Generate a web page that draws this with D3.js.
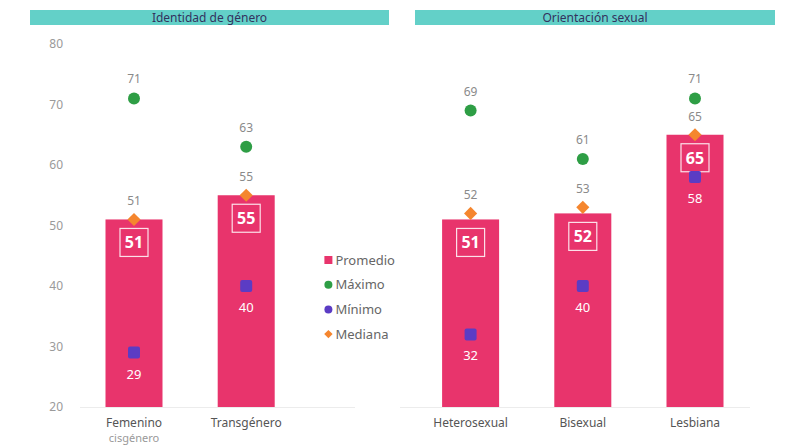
<!DOCTYPE html>
<html>
<head>
<meta charset="utf-8">
<script src="https://cdn.jsdelivr.net/npm/d3@7"></script>
<style>
  body { margin: 0; background: #fff; }
  svg { font-family: "Noto Sans", "Open Sans", sans-serif; }
</style>
</head>
<body>
<div id="chart"></div>
<script>
// data
const categories = ["Femenino", "Transgénero", "Heterosexual", "Bisexual", "Lesbiana"];
const subLabels = ["cisgénero", "", "", "", ""];
const promedio = [51, 55, 51, 52, 65];
const maximo = [71, 63, 69, 61, 71];
const minimo = [29, 40, 32, 40, 58];
const mediana = [51, 55, 52, 53, 65];
const yTicks = [20, 30, 40, 50, 60, 70, 80];
const panels = ["Identidad de género", "Orientación sexual"];
const legendItems = ["Promedio", "Máximo", "Mínimo", "Mediana"];

const width = 785;
const height = 446;
const barWidth = 57;

const colors = {
    bar: "#e8346c",
    max: "#2e9e45",
    min: "#5b3cc4",
    med: "#f5862e",
    header: "#63d0c8"
};

// slots: the empty one in the middle holds the legend
const slots = ["Femenino", "Transgénero", "legend", "Heterosexual", "Bisexual", "Lesbiana"];

const svg = d3.select("#chart")
    .append("svg")
    .attr("width", width)
    .attr("height", height);

const xScale = d3.scalePoint()
    .domain(slots)
    .range([134, 695]);

const yScale = d3.scaleLinear()
    .domain([20, 80])
    .range([407, 44]);

const rows = categories.map((c, i) => ({
    cat: c,
    sub: subLabels[i],
    avg: promedio[i],
    max: maximo[i],
    min: minimo[i],
    med: mediana[i]
}));

// panel headers
const panelRanges = [[30, 389], [415, 775]];
panels.forEach((p, i) => {
    const [x0, x1] = panelRanges[i];
    svg.append("rect")
        .attr("x", x0).attr("y", 10)
        .attr("width", x1 - x0).attr("height", 15)
        .attr("fill", colors.header);
    svg.append("text")
        .attr("x", (x0 + x1) / 2).attr("y", 21.5)
        .attr("text-anchor", "middle")
        .attr("font-size", 12)
        .attr("fill", "#33325e")
        .text(p);
    // faint baseline
    svg.append("line")
        .attr("x1", i === 0 ? 80 : 400).attr("x2", i === 0 ? 355 : 750)
        .attr("y1", yScale(20) + 0.5).attr("y2", yScale(20) + 0.5)
        .attr("stroke", "#ececec");
});

// y axis
const yAxis = d3.axisLeft(yScale)
    .tickValues(yTicks)
    .tickSize(0)
    .tickPadding(0);

const yg = svg.append("g")
    .attr("transform", "translate(63,0)")
    .call(yAxis);
yg.select(".domain").remove();
yg.selectAll("text")
    .attr("font-size", 12)
    .attr("fill", "#9a9a9a")
    .attr("font-family", "Noto Sans, sans-serif");

// bars
svg.append("g").selectAll("rect")
    .data(rows)
    .enter()
    .append("rect")
    .attr("x", d => xScale(d.cat) - barWidth / 2)
    .attr("y", d => yScale(d.avg))
    .attr("width", barWidth)
    .attr("height", d => yScale(20) - yScale(d.avg))
    .attr("fill", colors.bar);

// boxed average labels
const boxes = svg.append("g").selectAll("g")
    .data(rows)
    .enter()
    .append("g")
    .attr("transform", d => "translate(" + xScale(d.cat) + "," + (yScale(d.avg) + 23) + ")");
boxes.append("rect")
    .attr("x", -14).attr("y", -14)
    .attr("width", 28).attr("height", 28)
    .attr("fill", "none")
    .attr("stroke", "#fff")
    .attr("stroke-width", 1.2)
    .attr("opacity", 0.85);
boxes.append("text")
    .attr("text-anchor", "middle")
    .attr("dy", "0.36em")
    .attr("font-size", 16)
    .attr("font-weight", "bold")
    .attr("fill", "#fff")
    .text(d => d.avg);

// maximum dots
svg.append("g").selectAll("circle")
    .data(rows)
    .enter()
    .append("circle")
    .attr("cx", d => xScale(d.cat))
    .attr("cy", d => yScale(d.max))
    .attr("r", 6)
    .attr("fill", colors.max);
svg.append("g").selectAll("text")
    .data(rows)
    .enter()
    .append("text")
    .attr("x", d => xScale(d.cat))
    .attr("y", d => yScale(d.max) - 15)
    .attr("text-anchor", "middle")
    .attr("font-size", 12)
    .attr("fill", "#8a8a8a")
    .text(d => d.max);

// minimum squares
svg.append("g").selectAll("rect")
    .data(rows)
    .enter()
    .append("rect")
    .attr("x", d => xScale(d.cat) - 6)
    .attr("y", d => yScale(d.min) - 6)
    .attr("width", 12)
    .attr("height", 12)
    .attr("rx", 2)
    .attr("fill", colors.min);
svg.append("g").selectAll("text")
    .data(rows)
    .enter()
    .append("text")
    .attr("x", d => xScale(d.cat))
    .attr("y", d => yScale(d.min) + 26)
    .attr("text-anchor", "middle")
    .attr("font-size", 13)
    .attr("fill", "#fff")
    .text(d => d.min);

// median diamonds
const diamond = d3.symbol().type(d3.symbolDiamond2).size(110);
svg.append("g").selectAll("path")
    .data(rows)
    .enter()
    .append("path")
    .attr("d", diamond)
    .attr("transform", d => "translate(" + xScale(d.cat) + "," + yScale(d.med) + ")")
    .attr("fill", colors.med);
svg.append("g").selectAll("text")
    .data(rows)
    .enter()
    .append("text")
    .attr("x", d => xScale(d.cat))
    .attr("y", d => yScale(d.med) - 14)
    .attr("text-anchor", "middle")
    .attr("font-size", 12)
    .attr("fill", "#8a8a8a")
    .text(d => d.med);

// x labels
svg.append("g").selectAll("text")
    .data(rows)
    .enter()
    .append("text")
    .attr("x", d => xScale(d.cat))
    .attr("y", 427)
    .attr("text-anchor", "middle")
    .attr("font-size", 12)
    .attr("fill", "#555")
    .text(d => d.cat);
svg.append("g").selectAll("text")
    .data(rows.filter(d => d.sub))
    .enter()
    .append("text")
    .attr("x", d => xScale(d.cat))
    .attr("y", 442)
    .attr("text-anchor", "middle")
    .attr("font-size", 11)
    .attr("fill", "#999")
    .text(d => d.sub);

// legend in the empty slot
const legend = svg.append("g")
    .attr("transform", "translate(" + (xScale("legend") - 30) + ",0)");
const legendColors = [colors.bar, colors.max, colors.min, colors.med];
legendItems.forEach((name, i) => {
    const ly = 260 + i * 24.7;
    let mark;
    if (i === 0) {
        mark = legend.append("rect").attr("x", -4).attr("y", ly - 4).attr("width", 8).attr("height", 8);
    } else if (i === 3) {
        mark = legend.append("path").attr("d", d3.symbol().type(d3.symbolDiamond2).size(45))
            .attr("transform", "translate(0," + ly + ")");
    } else {
        mark = legend.append("circle").attr("cx", 0).attr("cy", ly).attr("r", 4);
    }
    mark.attr("fill", legendColors[i]);
    legend.append("text")
        .attr("x", 7)
        .attr("y", ly)
        .attr("dy", "0.35em")
        .attr("font-size", 13)
        .attr("fill", "#666")
        .text(name);
});
</script>
</body>
</html>
